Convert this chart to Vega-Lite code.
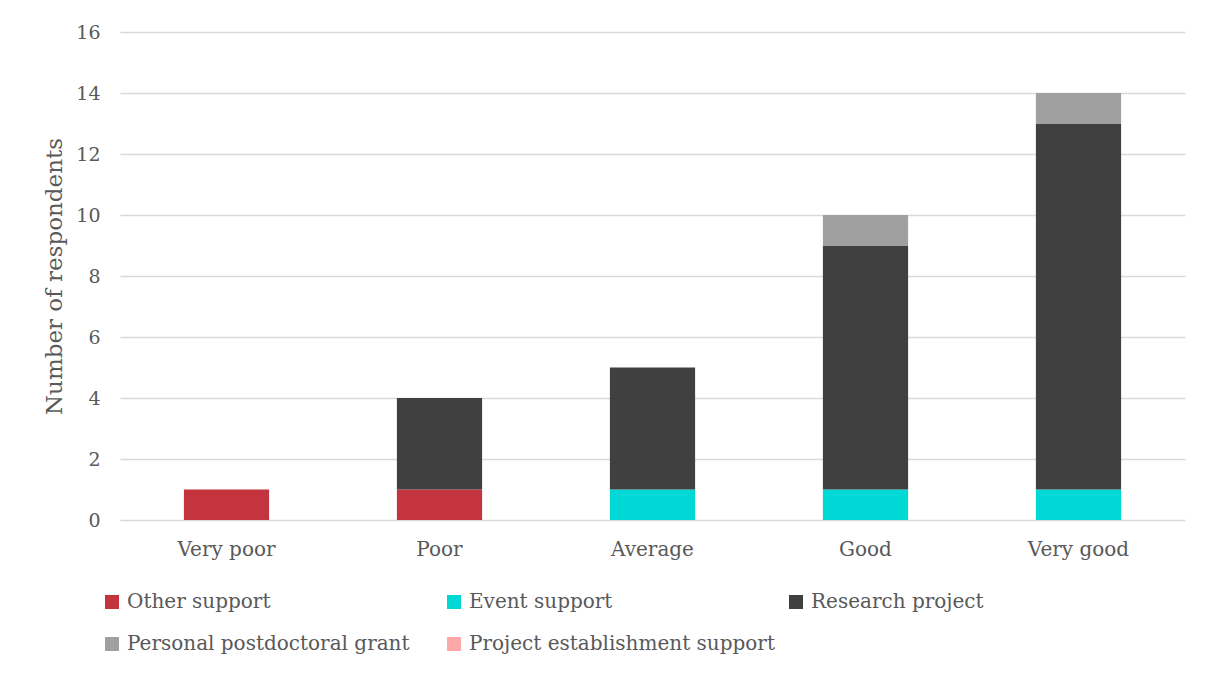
{
  "$schema": "https://vega.github.io/schema/vega-lite/v6.json",
  "width": 1065,
  "height": 488,
  "autosize": {"type": "none"},
  "padding": {"left": 120, "top": 32, "right": 28, "bottom": 157},
  "background": "white",
  "config": {
    "font": "DejaVu Serif",
    "view": {"stroke": null}
  },
  "data": {
    "values": [
      {"rating": "Very poor", "series": "Other support", "k": 1, "n": 1},
      {"rating": "Poor", "series": "Other support", "k": 1, "n": 1},
      {"rating": "Poor", "series": "Research project", "k": 3, "n": 3},
      {"rating": "Average", "series": "Event support", "k": 2, "n": 1},
      {"rating": "Average", "series": "Research project", "k": 3, "n": 4},
      {"rating": "Good", "series": "Event support", "k": 2, "n": 1},
      {"rating": "Good", "series": "Research project", "k": 3, "n": 8},
      {"rating": "Good", "series": "Personal postdoctoral grant", "k": 4, "n": 1},
      {"rating": "Very good", "series": "Event support", "k": 2, "n": 1},
      {"rating": "Very good", "series": "Research project", "k": 3, "n": 12},
      {"rating": "Very good", "series": "Personal postdoctoral grant", "k": 4, "n": 1}
    ]
  },
  "mark": {"type": "bar"},
  "encoding": {
    "x": {
      "field": "rating",
      "type": "nominal",
      "sort": ["Very poor", "Poor", "Average", "Good", "Very good"],
      "scale": {"paddingInner": 0.6, "paddingOuter": 0.3},
      "axis": {
        "title": null,
        "labelAngle": 0,
        "domain": false,
        "ticks": false,
        "labelFontSize": 20,
        "labelColor": "#595959",
        "labelPadding": 19,
        "labelBaseline": "top"
      }
    },
    "y": {
      "field": "n",
      "type": "quantitative",
      "stack": "zero",
      "scale": {"domain": [0, 16], "nice": false},
      "axis": {
        "title": "Number of respondents",
        "values": [0, 2, 4, 6, 8, 10, 12, 14, 16],
        "domain": false,
        "ticks": false,
        "grid": true,
        "gridColor": "#d9d9d9",
        "gridWidth": 1.5,
        "labelFontSize": 19,
        "labelColor": "#595959",
        "labelPadding": 20,
        "titleFontSize": 23,
        "titleFontWeight": "normal",
        "titleColor": "#595959",
        "titleX": -66,
        "titleY": 244,
        "titleAngle": -90,
        "titleAlign": "center",
        "titleBaseline": "middle"
      }
    },
    "color": {
      "field": "series",
      "type": "nominal",
      "scale": {
        "domain": ["Other support", "Event support", "Research project", "Personal postdoctoral grant", "Project establishment support"],
        "range": ["#c3343f", "#00d8d6", "#404040", "#a0a0a0", "#ffa8a8"]
      },
      "legend": {
        "title": null,
        "orient": "none",
        "legendX": -18,
        "legendY": 560,
        "direction": "horizontal",
        "columns": 3,
        "gridAlign": "all",
        "columnPadding": 11,
        "rowPadding": 22,
        "symbolType": "square",
        "symbolSize": 196,
        "symbolStrokeWidth": 0,
        "symbolOffset": 0,
        "labelOffset": 5,
        "labelFontSize": 20,
        "labelColor": "#595959",
        "labelLimit": 400,
        "padding": 0
      }
    },
    "order": {"field": "k", "type": "quantitative", "sort": "ascending"}
  }
}
